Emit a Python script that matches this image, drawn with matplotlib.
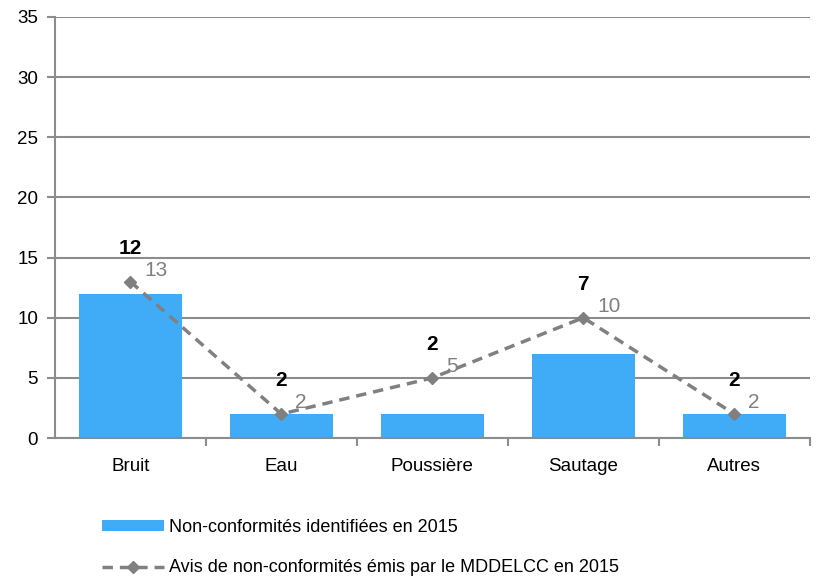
import numpy as np
import matplotlib.pyplot as plt
from matplotlib.patches import Patch
from matplotlib.lines import Line2D

plt.rcParams['font.family'] = ['Liberation Sans', 'DejaVu Sans']

# Data
categories = ['Bruit', 'Eau', 'Poussière', 'Sautage', 'Autres']
identified = [12, 2, 2, 7, 2]
notices = [13, 2, 5, 10, 2]

bar_color = '#40ABF7'
line_color = '#808080'
grid_color = '#8C8C8C'

fig = plt.figure(figsize=(8.18, 5.81), dpi=100)
ax = fig.add_axes([0.067, 0.246, 0.923, 0.725])

x = np.arange(len(categories))
ax.bar(x, identified, width=0.68, color=bar_color, zorder=2)
ax.plot(x, notices, linestyle='--', color=line_color, linewidth=2.5,
        marker='D', markersize=6, zorder=3, dashes=(3, 2))

# value labels
for xi, b, n in zip(x, identified, notices):
    ax.annotate(str(b), (xi, max(b, n)), xytext=(0, 24), textcoords='offset points',
                ha='center', va='center', fontsize=15, fontweight='bold', color='black')
    ax.annotate(str(n), (xi, n), xytext=(10, 8), textcoords='offset points',
                ha='left', va='center', fontsize=15, color='#808080')

ax.set_xlim(-0.5, len(categories) - 0.5)
ax.set_ylim(0, 35)
ax.set_yticks(np.arange(0, 36, 5))
ax.yaxis.grid(True, color=grid_color, linewidth=1.5, zorder=0)
ax.set_axisbelow(True)

ax.set_xticks(x)
ax.set_xticklabels(categories, fontsize=13.5)
ax.set_xticks(np.arange(0.5, len(categories), 1), minor=True)
ax.tick_params(axis='x', which='major', length=0, pad=14)
ax.tick_params(axis='x', which='minor', length=6, width=1.5, color=grid_color)
ax.tick_params(axis='y', length=6, width=1.5, color=grid_color, labelsize=13.5, pad=6)

for s in ['top', 'right']:
    ax.spines[s].set_visible(False)
for s in ['left', 'bottom']:
    ax.spines[s].set_color(grid_color)
    ax.spines[s].set_linewidth(1.5)

handles = [
    Patch(facecolor=bar_color, edgecolor='none'),
    Line2D([0], [0], linestyle='--', color=line_color, linewidth=2.5, marker='D',
           markersize=6, dashes=(3, 2)),
]
labels = ['Non-conformités identifiées en 2015',
          'Avis de non-conformités émis par le MDDELCC en 2015']
fig.legend(handles, labels, loc='upper left', bbox_to_anchor=(0.105, 0.135),
           frameon=False, handlelength=3.4, handleheight=0.5, handletextpad=0.3,
           labelspacing=1.3, prop={'size': 13})

fig.savefig('out.png', dpi=100)
